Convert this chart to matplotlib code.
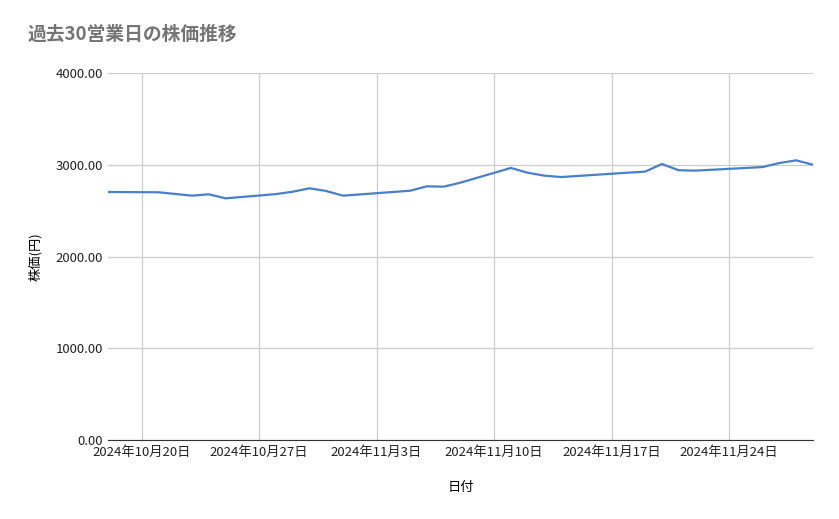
import matplotlib
matplotlib.use("Agg")
import matplotlib.pyplot as plt
import pandas as pd

plt.rcParams["font.family"] = ["Noto Sans CJK JP", "DejaVu Sans"]

dates = pd.to_datetime([
    "2024-10-18", "2024-10-21", "2024-10-22", "2024-10-23", "2024-10-24", "2024-10-25",
    "2024-10-28", "2024-10-29", "2024-10-30", "2024-10-31", "2024-11-01",
    "2024-11-05", "2024-11-06", "2024-11-07", "2024-11-08",
    "2024-11-11", "2024-11-12", "2024-11-13", "2024-11-14", "2024-11-15",
    "2024-11-18", "2024-11-19", "2024-11-20", "2024-11-21", "2024-11-22",
    "2024-11-25", "2024-11-26", "2024-11-27", "2024-11-28", "2024-11-29",
])
prices = [
    2703, 2700, 2682, 2663, 2678, 2634,
    2680, 2706, 2743, 2714, 2663,
    2717, 2765, 2761, 2805,
    2965, 2913, 2881, 2866, 2878,
    2914, 2925, 3008, 2940, 2936,
    2965, 2975, 3019, 3048, 3000,
]
tick_dates = pd.date_range("2024-10-20", "2024-11-24", freq="7D")

fig = plt.figure(figsize=(8.39, 5.19), dpi=100)
ax = fig.add_axes([108 / 839, 1 - 440 / 519, 705 / 839, 367 / 519])
ax.plot(dates, prices, color="#4a7fc9", linewidth=1.6)

ax.set_xlim(dates[0], dates[-1])
ax.set_ylim(0, 4000)
ax.set_yticks([0, 1000, 2000, 3000, 4000])
ax.yaxis.set_major_formatter(matplotlib.ticker.FuncFormatter(lambda v, p: f"{v:.2f}"))
ax.set_xticks(tick_dates)
ax.set_xticklabels([f"{d.year}年{d.month}月{d.day}日" for d in tick_dates])
ax.grid(True, color="#cccccc", linewidth=0.9)
ax.tick_params(length=0, labelsize=9.5, colors="#222222")
ax.tick_params(axis="x", pad=4)
for s in ["top", "right", "left"]:
    ax.spines[s].set_visible(False)
ax.spines["bottom"].set_color("#333333")

ax.set_xlabel("日付", fontsize=9.5, labelpad=16)
ax.set_ylabel("株価(円)", fontsize=9.5, labelpad=10)
fig.text(28 / 839, 1 - 40 / 519, "過去30営業日の株価推移", fontsize=13.5, color="#757575",
         fontweight="bold")

fig.savefig("out.png", dpi=100)
